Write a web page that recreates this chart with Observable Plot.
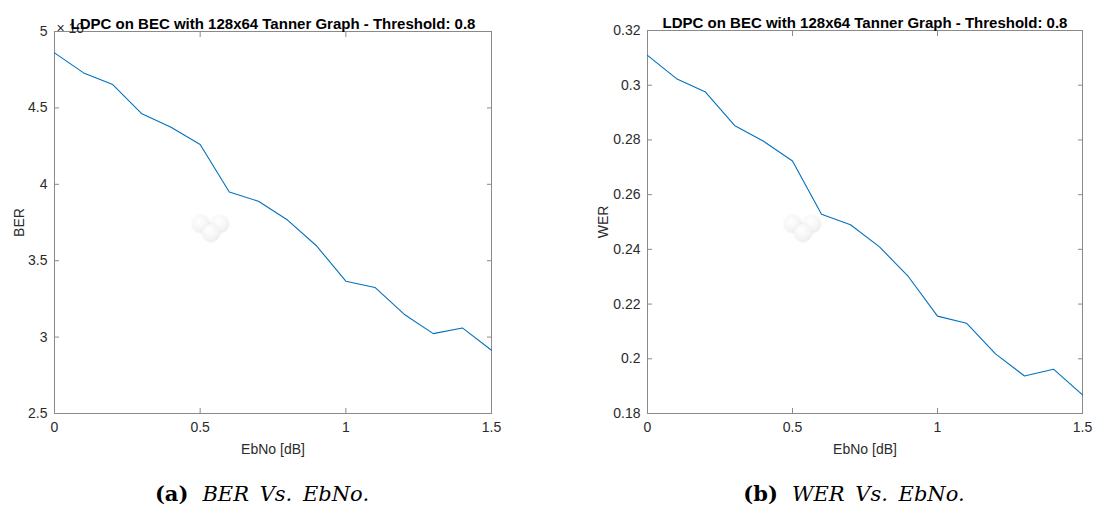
<!DOCTYPE html>
<html>
<head>
<meta charset="utf-8">
<script src="https://cdn.jsdelivr.net/npm/d3@7"></script>
<script src="https://cdn.jsdelivr.net/npm/@observablehq/plot@0.6"></script>
<style>
  html, body { margin: 0; padding: 0; background: #fff; }
  #root { position: relative; width: 1098px; height: 511px; overflow: hidden; background: #fff; }
  .panel { position: absolute; top: 0; }
  .cap { position: absolute; top: 481px; font-family: "DejaVu Serif", serif; font-size: 21px; line-height: 25px;
         color: #000; white-space: nowrap; transform: translateX(-50%); word-spacing: 4px; }
  .cap b { font-weight: bold; margin-right: 14px; }
  .cap i { font-style: italic; }
  .puff { position: absolute; width: 18px; height: 18px; border-radius: 50%;
          background: radial-gradient(circle at 40% 35%, #ffffff 0%, #f4f4f4 55%, #e2e2e2 100%);
          box-shadow: 0 0 3px rgba(0,0,0,0.06); }
</style>
</head>
<body>
<div id="root"></div>
<script>
const ebno = [0, 0.1, 0.2, 0.3, 0.4, 0.5, 0.6, 0.7, 0.8, 0.9, 1.0, 1.1, 1.2, 1.3, 1.4, 1.5];
const ber  = [4.860, 4.729, 4.653, 4.461, 4.373, 4.260, 3.950, 3.889, 3.766, 3.596, 3.366, 3.325, 3.150, 3.023, 3.060, 2.914]; // x 10^-3
const wer  = [0.3109, 0.3024, 0.2975, 0.2853, 0.2795, 0.2723, 0.2528, 0.2490, 0.2409, 0.2300, 0.2156, 0.2130, 0.2018, 0.1937, 0.1962, 0.1868];
const xTicks = [0, 0.5, 1, 1.5];
const berTicks = [2.5, 3, 3.5, 4, 4.5, 5];
const werTicks = [0.18, 0.2, 0.22, 0.24, 0.26, 0.28, 0.3, 0.32];
const titleText = "LDPC on BEC with 128x64 Tanner Graph - Threshold: 0.8";
const xLabel = "EbNo [dB]";
const captions = [["(a)", "BER Vs. EbNo."], ["(b)", "WER Vs. EbNo."]];

const FONT = "Liberation Sans, Arial, Helvetica, sans-serif";
const TXT = "#2b2b2b";
const AX = "#8a8a8a";
const LINE = "#0072BD";

function panel({values, yTicks, yDomain, yLabel, yLabelOffset, margins, exponent}) {
  const data = ebno.map((x, i) => ({x, y: values[i]}));
  const marks = [
    Plot.frame({stroke: AX, strokeWidth: 1}),
    // inward ticks on all four sides
    Plot.axisY(yTicks, {anchor: "left", fill: "none", stroke: AX, tickSize: 5, dx: 5, label: null}),
    Plot.axisY(yTicks, {anchor: "right", fill: "none", stroke: AX, tickSize: 5, dx: -5, label: null}),
    Plot.axisX(xTicks, {anchor: "bottom", fill: "none", stroke: AX, tickSize: 5, dy: -5, label: null}),
    Plot.axisX(xTicks, {anchor: "top", fill: "none", stroke: AX, tickSize: 5, dy: 5, label: null}),
    // labels
    Plot.axisY(yTicks, {anchor: "left", tickSize: 0, tickPadding: 7, fill: TXT, fontSize: 14,
      tickFormat: d => String(d), label: yLabel, labelAnchor: "center", labelArrow: "none", labelOffset: yLabelOffset}),
    Plot.axisX(xTicks, {anchor: "bottom", tickSize: 0, tickPadding: 9, fill: TXT, fontSize: 14,
      tickFormat: d => String(d), label: xLabel, labelAnchor: "center", labelArrow: "none", labelOffset: 40}),
    Plot.line(data, {x: "x", y: "y", stroke: LINE, strokeWidth: 1.1})
  ];
  if (exponent) {
    marks.push(Plot.text([exponent], {frameAnchor: "top-left", dx: 2, dy: -8, textAnchor: "start",
      fill: TXT, fontSize: 14, fontFamily: FONT}));
  }
  marks.push(Plot.text([titleText], {frameAnchor: "top", dy: -13, fill: "#000", fontSize: 15,
    fontWeight: "bold", fontFamily: FONT}));
  return Plot.plot({
    width: 549,
    height: 465,
    ...margins,
    style: {fontFamily: FONT, fontSize: "14.5px", color: TXT, background: "transparent"},
    x: {domain: [0, 1.5], axis: null},
    y: {domain: yDomain, axis: null},
    marks
  });
}

const root = document.getElementById("root");

const left = panel({values: ber, yTicks: berTicks, yDomain: [2.5, 5], yLabel: "BER", yLabelOffset: 40,
  margins: {marginLeft: 54, marginRight: 58, marginTop: 31, marginBottom: 52}, exponent: "× 10"});
left.classList.add("panel"); left.style.left = "0px";
root.appendChild(left);

const right = panel({values: wer, yTicks: werTicks, yDomain: [0.18, 0.32], yLabel: "WER", yLabelOffset: 49,
  margins: {marginLeft: 98, marginRight: 16, marginTop: 30, marginBottom: 52}, exponent: null});
right.classList.add("panel"); right.style.left = "549px";
root.appendChild(right);

// small decorative puffs seen in the reference
[[192, 215], [211, 215], [202, 224], [784, 215], [803, 215], [794, 224]].forEach(([x, y]) => {
  const d = document.createElement("div");
  d.className = "puff"; d.style.left = x + "px"; d.style.top = y + "px";
  root.appendChild(d);
});

// captions
[[262, captions[0]], [854, captions[1]]].forEach(([cx, [tag, text]]) => {
  const c = document.createElement("div");
  c.className = "cap"; c.style.left = cx + "px";
  c.innerHTML = `<b>${tag}</b><i>${text}</i>`;
  root.appendChild(c);
});
</script>
</body>
</html>
